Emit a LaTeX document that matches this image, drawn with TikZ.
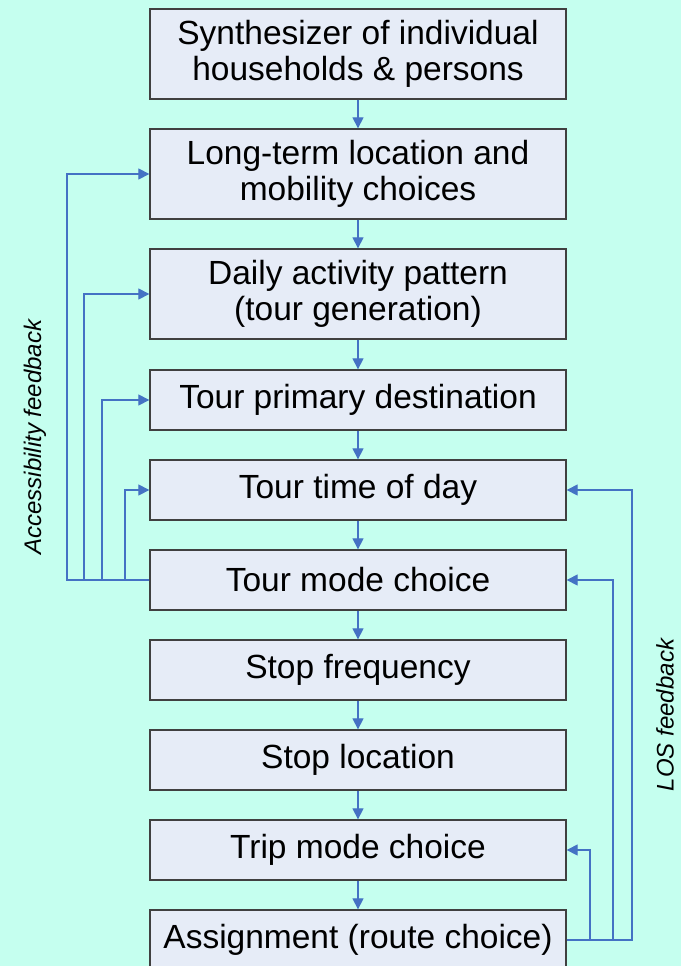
\documentclass[tikz,border=0pt]{standalone}
\usepackage{fontspec}
\setmainfont{Liberation Sans}
\usetikzlibrary{arrows.meta}
\definecolor{bgc}{HTML}{C5FFEF}
\definecolor{boxc}{HTML}{E6ECF7}
\definecolor{edgec}{HTML}{404040}
\definecolor{arrc}{HTML}{4472C4}
\tikzset{
  stepbox/.style={draw=edgec, line width=1.3pt, fill=boxc, minimum width=416pt, inner sep=0pt, align=center,
    font=\fontsize{33.5}{36}\selectfont},
  twoline/.style={minimum height=90pt},
  oneline/.style={minimum height=60pt},
  conn/.style={draw=arrc, line width=1.2pt, -{Triangle[length=11pt,width=11pt]}},
  sidelabel/.style={font=\fontsize{24}{28}\selectfont\itshape, rotate=90}
}
\begin{document}
\begin{tikzpicture}[x=1pt,y=-1pt]
\useasboundingbox (0,0) rectangle (681,966);
\fill[bgc] (0,0) rectangle (681,966);
\node[stepbox,twoline] (b1) at (358,54) {Synthesizer of individual\\households \& persons};
\node[stepbox,twoline] (b2) at (358,174) {Long-term location and\\mobility choices};
\node[stepbox,twoline] (b3) at (358,294) {Daily activity pattern\\(tour generation)};
\node[stepbox,oneline] (b4) at (358,400) {Tour primary destination};
\node[stepbox,oneline] (b5) at (358,490) {Tour time of day};
\node[stepbox,oneline] (b6) at (358,580) {Tour mode choice};
\node[stepbox,oneline] (b7) at (358,670) {Stop frequency};
\node[stepbox,oneline] (b8) at (358,760) {Stop location};
\node[stepbox,oneline] (b9) at (358,850) {Trip mode choice};
\node[stepbox,oneline] (b10) at (358,940) {Assignment (route choice)};
\foreach \a/\b in {b1/b2,b2/b3,b3/b4,b4/b5,b5/b6,b6/b7,b7/b8,b8/b9,b9/b10}
  \draw[conn] (\a.south) -- (\b.north);
% accessibility feedback
\draw[conn] (b6.west) -| (67,174) -- (b2.west);
\draw[conn] (b6.west) -| (84,294) -- (b3.west);
\draw[conn] (b6.west) -| (102,400) -- (b4.west);
\draw[conn] (b6.west) -| (125,490) -- (b5.west);
% LOS feedback
\draw[conn] (b10.east) -| (632,490) -- (b5.east);
\draw[conn] (b10.east) -| (613,580) -- (b6.east);
\draw[conn] (b10.east) -| (590,850) -- (b9.east);
\node[sidelabel] (acc) at (35,437) {Accessibility feedback};
\node[sidelabel] (los) at (665,715) {LOS feedback};
\end{tikzpicture}
\end{document}
